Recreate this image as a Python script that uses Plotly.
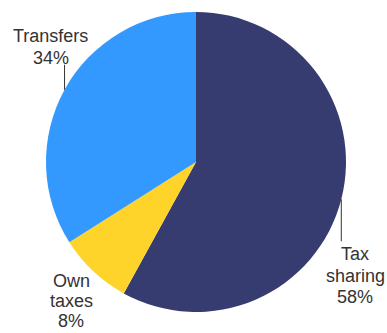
import math
import plotly.graph_objects as go

# Revenue composition
labels = ["Tax sharing", "Own taxes", "Transfers"]
shares = [58, 8, 34]
label_lines = [["Tax", "sharing"], ["Own", "taxes"], ["Transfers"]]
colors = ["#363b70", "#ffd42a", "#3399ff"]

W, H = 387, 333
CX, CY, R = 196, 162, 150  # pie centre and radius in pixels

fig = go.Figure(go.Pie(
    labels=labels,
    values=shares,
    sort=False,
    direction="clockwise",
    rotation=0,
    marker=dict(colors=colors, line=dict(width=0)),
    textinfo="none",
    hoverinfo="label+percent",
    domain=dict(x=[(CX - R) / W, (CX + R) / W],
                y=[(H - CY - R) / H, (H - CY + R) / H]),
    showlegend=False,
))

def px(x, y):
    return x / W, 1 - y / H

# leader length (px, + down / - up), text offset from leader end,
# line spacing and direction in which the text block grows
placement = {
    "Tax sharing": dict(lead=42, dx=14, gap=13, step=21.5, grow=1),
    "Own taxes": dict(lead=0, dx=-22, gap=10, step=20, grow=1),
    "Transfers": dict(lead=-25, dx=-14, gap=7, step=21.5, grow=-1),
}

total = sum(shares)
cum = 0
for name, val, lines in zip(labels, shares, label_lines):
    mid = (cum + val / 2) / total * 2 * math.pi
    cum += val
    ex = CX + R * math.sin(mid)
    ey = CY - R * math.cos(mid)
    p = placement[name]
    rows = lines + [f"{round(val / total * 100)}%"]
    end_y = ey + p["lead"]
    if p["lead"]:
        x0, y0 = px(ex, ey)
        x1, y1 = px(ex, end_y)
        fig.add_shape(type="line", xref="paper", yref="paper",
                      x0=x0, y0=y0, x1=x1, y1=y1,
                      line=dict(color="#333333", width=1))
    tx = ex + p["dx"]
    n = len(rows)
    if p["grow"] > 0:
        ys = [end_y + p["gap"] + i * p["step"] for i in range(n)]
    else:
        ys = [end_y - p["gap"] - (n - 1 - i) * p["step"] for i in range(n)]
    for row, ty in zip(rows, ys):
        ax, ay = px(tx, ty)
        fig.add_annotation(x=ax, y=ay, xref="paper", yref="paper",
                           text=row, showarrow=False,
                           xanchor="center", yanchor="middle",
                           font=dict(family="Liberation Sans, Arial", size=18,
                                     color="#333333"))

fig.update_layout(
    width=W, height=H,
    margin=dict(l=0, r=0, t=0, b=0),
    paper_bgcolor="white",
    plot_bgcolor="white",
)

fig.write_html("out.html")
